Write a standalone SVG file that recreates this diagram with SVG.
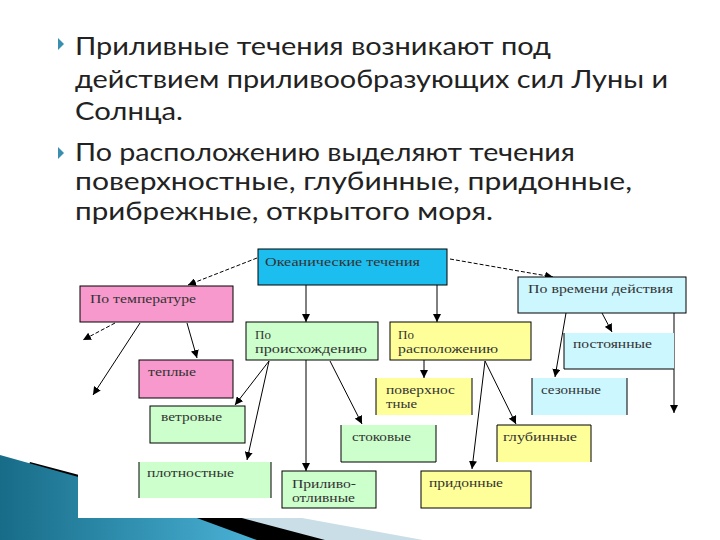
<svg xmlns="http://www.w3.org/2000/svg" width="720" height="540" viewBox="0 0 720 540">
<style>
.title{font-family:Lato,"Open Sans","DejaVu Sans",sans-serif;font-size:25px;fill:#222}
.lbl{font-family:"Liberation Serif","DejaVu Serif",serif;font-size:13px;fill:#333}
.b{stroke:#000;stroke-width:1}
.bd{fill:none;stroke:#000;stroke-width:1}
.c{fill:none;stroke:#000;stroke-width:1}
.d{stroke-dasharray:4 2}
.bul{fill:#3a8fb0}
</style>
<defs>
<marker id="ah" markerUnits="userSpaceOnUse" markerWidth="8" markerHeight="8" refX="8" refY="4" orient="auto">
<path d="M0,0 L8,4 L0,8 z" fill="#000"/>
</marker>
<linearGradient id="blue" x1="0" y1="0" x2="1" y2="0">
<stop offset="0" stop-color="#176c88"/>
<stop offset="1" stop-color="#4ab2d6"/>
</linearGradient>
</defs>
<rect width="720" height="540" fill="#fff"/>
<!-- bottom decoration -->
<g id="decoration">
<polygon points="230,505 423,540 0,540" fill="#c9dee7"/>
<polygon points="30,462 325,540 0,540" fill="#000"/>
<polygon points="0,455 107,485 257,540 0,540" fill="url(#blue)"/>
<rect x="78" y="240" width="642" height="278" fill="#fff"/>
</g>
<!-- title text -->
<g id="text">
<polygon class="bul" points="58,38 64,44 58,50"/>
<polygon class="bul" points="58,147 64,153 58,159"/>
<text class="title" x="75" y="55" textLength="476" lengthAdjust="spacingAndGlyphs">Приливные течения возникают под</text>
<text class="title" x="75" y="88" textLength="593" lengthAdjust="spacingAndGlyphs">действием приливообразующих сил Луны и</text>
<text class="title" x="75" y="120" textLength="108" lengthAdjust="spacingAndGlyphs">Солнца.</text>
<text class="title" x="75" y="161" textLength="500" lengthAdjust="spacingAndGlyphs">По расположению выделяют течения</text>
<text class="title" x="75" y="190" textLength="557" lengthAdjust="spacingAndGlyphs">поверхностные, глубинные, придонные,</text>
<text class="title" x="75" y="220" textLength="418" lengthAdjust="spacingAndGlyphs">прибрежные, открытого моря.</text>
</g>
<!-- connectors -->
<g id="connectors">
<line class="c d" x1="257" y1="258" x2="188" y2="285" marker-end="url(#ah)"/>
<line class="c d" x1="450" y1="259" x2="553" y2="277" marker-end="url(#ah)"/>
<line class="c" x1="306" y1="285" x2="306" y2="322" marker-end="url(#ah)"/>
<line class="c" x1="437" y1="285" x2="437" y2="322" marker-end="url(#ah)"/>
<line class="c d" x1="115" y1="323" x2="83" y2="340" marker-end="url(#ah)"/>
<line class="c" x1="140" y1="323" x2="93" y2="395" marker-end="url(#ah)"/>
<line class="c" x1="187" y1="323" x2="197" y2="358" marker-end="url(#ah)"/>
<line class="c" x1="269" y1="361" x2="235" y2="405" marker-end="url(#ah)"/>
<line class="c" x1="269" y1="361" x2="247" y2="460" marker-end="url(#ah)"/>
<line class="c" x1="306" y1="360" x2="306" y2="471" marker-end="url(#ah)"/>
<line class="c" x1="330" y1="361" x2="362" y2="424" marker-end="url(#ah)"/>
<line class="c" x1="424" y1="360" x2="424" y2="378" marker-end="url(#ah)"/>
<line class="c" x1="485" y1="361" x2="472" y2="469" marker-end="url(#ah)"/>
<line class="c" x1="485" y1="361" x2="516" y2="424" marker-end="url(#ah)"/>
<line class="c" x1="566" y1="313" x2="555" y2="377" marker-end="url(#ah)"/>
<line class="c" x1="602" y1="313" x2="612" y2="332" marker-end="url(#ah)"/>
<line class="c" x1="674" y1="313" x2="674" y2="413" marker-end="url(#ah)"/>
</g>
<!-- nodes -->
<g id="ocean"><rect class="b" x="258" y="249" width="189" height="36" fill="#1cbeef"/><text class="lbl" x="265" y="266" textLength="155" lengthAdjust="spacingAndGlyphs">Океанические течения</text></g>
<g id="temp"><rect class="b" x="80" y="286" width="153" height="36" fill="#f799cc"/><text class="lbl" x="90" y="303" textLength="106" lengthAdjust="spacingAndGlyphs">По температуре</text></g>
<g id="time"><rect class="b" x="518" y="277" width="168" height="36" fill="#ccf7ff"/><text class="lbl" x="528" y="293" textLength="145" lengthAdjust="spacingAndGlyphs">По времени действия</text></g>
<g id="origin"><rect class="b" x="246" y="322" width="132" height="38" fill="#ccffcc"/><text class="lbl" x="255" y="339">По</text><text class="lbl" x="255" y="353" textLength="112" lengthAdjust="spacingAndGlyphs">происхождению</text></g>
<g id="location"><rect class="b" x="390" y="322" width="141" height="38" fill="#ffff99"/><text class="lbl" x="398" y="339">По</text><text class="lbl" x="398" y="353" textLength="100" lengthAdjust="spacingAndGlyphs">расположению</text></g>
<g id="constant"><rect x="564" y="333" width="110" height="36" fill="#ccf7ff"/><path class="bd" d="M564,333 V369 H674"/><text class="lbl" x="573" y="348" textLength="79" lengthAdjust="spacingAndGlyphs">постоянные</text></g>
<g id="warm"><rect class="b" x="139" y="360" width="94" height="38" fill="#f799cc"/><text class="lbl" x="148" y="376" textLength="48" lengthAdjust="spacingAndGlyphs">теплые</text></g>
<g id="surface"><rect x="376" y="378" width="96" height="37" fill="#ffff99"/><path class="bd" d="M376,378 V415 M472,378 V415"/><text class="lbl" x="386" y="394" textLength="69" lengthAdjust="spacingAndGlyphs">поверхнос</text><text class="lbl" x="386" y="408" textLength="31" lengthAdjust="spacingAndGlyphs">тные</text></g>
<g id="seasonal"><rect x="532" y="378" width="95" height="37" fill="#ccf7ff"/><path class="bd" d="M532,378 V415 M627,378 V415"/><text class="lbl" x="541" y="394" textLength="60" lengthAdjust="spacingAndGlyphs">сезонные</text></g>
<g id="wind"><rect class="b" x="150" y="406" width="95" height="37" fill="#ccffcc"/><text class="lbl" x="161" y="421" textLength="61" lengthAdjust="spacingAndGlyphs">ветровые</text></g>
<g id="runoff"><rect x="341" y="425" width="95" height="37" fill="#ccffcc"/><path class="bd" d="M341,425 V462 H436 V425"/><text class="lbl" x="352" y="441" textLength="59" lengthAdjust="spacingAndGlyphs">стоковые</text></g>
<g id="deep"><rect x="497" y="425" width="94" height="37" fill="#ffff99"/><path class="bd" d="M497,462 V425 H591 V462"/><text class="lbl" x="503" y="441" textLength="74" lengthAdjust="spacingAndGlyphs">глубинные</text></g>
<g id="density"><rect x="139" y="462" width="132" height="36" fill="#ccffcc"/><path class="bd" d="M139,462 V498 M271,462 V498"/><text class="lbl" x="147" y="477" textLength="87" lengthAdjust="spacingAndGlyphs">плотностные</text></g>
<g id="tidal"><rect class="b" x="282" y="471" width="94" height="37" fill="#ccffcc"/><text class="lbl" x="292" y="488" textLength="64" lengthAdjust="spacingAndGlyphs">Приливо-</text><text class="lbl" x="292" y="502" textLength="63" lengthAdjust="spacingAndGlyphs">отливные</text></g>
<g id="bottom"><rect class="b" x="421" y="471" width="110" height="37" fill="#ffff99"/><text class="lbl" x="429" y="487" textLength="74" lengthAdjust="spacingAndGlyphs">придонные</text></g>
</svg>
